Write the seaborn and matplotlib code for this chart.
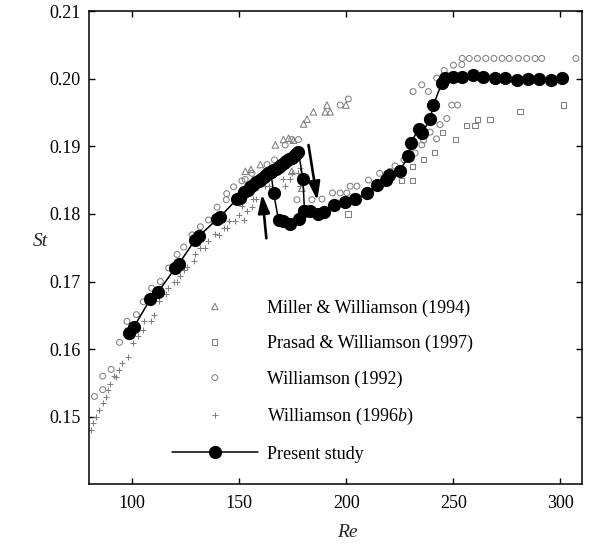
import matplotlib
matplotlib.use("Agg")
import matplotlib.pyplot as plt
import seaborn as sns
import pandas as pd

# ---------------- data ----------------
miller_re = [152.9, 155.5, 159.9, 166.9, 170.7, 173.1, 175.4, 174.6, 179.3,
             180.1, 181.7, 184.7, 190.2, 191.0, 192.5, 199.9]
miller_st = [0.1863, 0.1866, 0.1873, 0.1902, 0.1910, 0.1912, 0.1909, 0.1863, 0.1838,
             0.1933, 0.1940, 0.1951, 0.1951, 0.1961, 0.1951, 0.1961]

prasad_re = [200.8, 226.0, 231.0, 231.0, 236.1, 241.2, 245.1, 251.0, 256.3,
             260.2, 261.3, 267.2, 281.2, 301.4]
prasad_st = [0.1800, 0.1850, 0.1850, 0.1870, 0.1880, 0.1891, 0.1921, 0.1910, 0.1931,
             0.1931, 0.1940, 0.1940, 0.1951, 0.1961]

w92_re = [82.4, 86.3, 86.3, 90.2, 94.1, 97.6, 102.0, 105.2, 109.1, 113.2, 117.1,
          121.0, 124.1, 128.0, 131.0, 131.9, 135.7, 139.7, 144.0, 144.2, 147.4,
          151.3, 152.8, 156.0, 163.0, 166.5, 171.5, 174.6, 177.7, 177.0, 184.0,
          188.7, 193.6, 197.2, 200.3, 197.2, 201.0, 201.9, 205.0, 210.4, 215.6,
          220.5, 222.8, 227.0, 232.2, 235.3, 236.1, 239.2, 242.2, 243.8, 247.0,
          249.3, 252.0, 231.2, 235.3, 238.4, 242.3, 245.8, 250.1, 254.0, 254.2,
          257.5, 261.3, 265.2, 269.0, 272.8, 276.2, 280.4, 284.3, 288.2, 291.3,
          307.3]
w92_st = [0.1530, 0.1560, 0.1540, 0.1570, 0.1610, 0.1641, 0.1651, 0.1670, 0.1690,
          0.1700, 0.1720, 0.1740, 0.1751, 0.1769, 0.1766, 0.1781, 0.1791, 0.1810,
          0.1821, 0.1830, 0.1840, 0.1849, 0.1851, 0.1860, 0.1873, 0.1880, 0.1902,
          0.1910, 0.1910, 0.1821, 0.1821, 0.1822, 0.1831, 0.1831, 0.1831, 0.1961,
          0.1970, 0.1841, 0.1841, 0.1850, 0.1860, 0.1863, 0.1871, 0.1880, 0.1890,
          0.1902, 0.1909, 0.1921, 0.1911, 0.1932, 0.1941, 0.1961, 0.1961, 0.1981,
          0.1991, 0.1981, 0.2001, 0.2012, 0.2020, 0.2021, 0.2030, 0.2030, 0.2030,
          0.2030, 0.2030, 0.2030, 0.2030, 0.2030, 0.2030, 0.2030, 0.2030, 0.2030]

w96_re = [80.9, 81.9, 83.2, 84.7, 86.3, 87.9, 88.6, 89.9, 91.7, 92.6, 93.7, 95.3,
          98.0, 100.3, 102.6, 105.0, 105.7, 108.9, 110.4, 112.7, 115.9, 116.6,
          119.6, 121.0, 122.5, 124.1, 125.7, 128.8, 129.5, 131.9, 134.2, 135.5,
          138.9, 140.4, 142.7, 144.3, 145.1, 148.2, 149.7, 151.3, 152.5, 153.7,
          156.0, 156.7, 158.0, 162.2, 164.0, 170.7, 171.5, 173.9, 174.6, 177.5,
          178.5, 178.5]
w96_st = [0.1481, 0.1490, 0.1500, 0.1510, 0.1520, 0.1529, 0.1540, 0.1549, 0.1560,
          0.1559, 0.1569, 0.1580, 0.1589, 0.1609, 0.1619, 0.1629, 0.1641, 0.1641,
          0.1651, 0.1671, 0.1681, 0.1690, 0.1700, 0.1700, 0.1708, 0.1717, 0.1722,
          0.1730, 0.1740, 0.1749, 0.1750, 0.1760, 0.1771, 0.1769, 0.1779, 0.1779,
          0.1789, 0.1789, 0.1799, 0.1811, 0.1791, 0.1805, 0.1810, 0.1822, 0.1822,
          0.1841, 0.1841, 0.1851, 0.1841, 0.1851, 0.1861, 0.1861, 0.1868, 0.1841]

# present study: upper branch (increasing Re), drop point, lower branch, return point
upper_re = [98.7, 100.9, 108.5, 112.0, 120.2, 121.8, 129.5, 131.1, 139.7, 141.2,
            149.0, 150.5, 152.5, 154.0, 155.2, 156.6, 157.8, 159.1, 160.2, 161.4,
            162.5, 163.7, 164.8, 166.0, 167.3, 168.4, 169.6, 170.9, 172.0, 173.2,
            174.5, 175.6, 176.7, 177.7]
upper_st = [0.1624, 0.1633, 0.1674, 0.1684, 0.1720, 0.1726, 0.1762, 0.1767, 0.1792, 0.1796,
            0.1822, 0.1824, 0.1833, 0.1836, 0.1840, 0.1843, 0.1847, 0.1849, 0.1852, 0.1855,
            0.1857, 0.1860, 0.1862, 0.1865, 0.1867, 0.1870, 0.1873, 0.1875, 0.1878, 0.1881,
            0.1883, 0.1886, 0.1889, 0.1892]
drop_re = [179.8]
drop_st = [0.1851]
lower_re = [168.4, 170.7, 173.9, 178.0, 180.5, 183.2, 186.8, 189.4, 194.5, 199.5,
            204.2, 209.7, 214.3, 218.8, 219.9, 224.9, 229.0, 230.2, 233.9, 235.6,
            239.2, 240.7, 244.6, 246.2, 250.1, 254.0, 259.4, 264.1, 269.5, 274.2,
            279.9, 285.0, 290.2, 295.5, 300.6]
lower_st = [0.1791, 0.1789, 0.1785, 0.1792, 0.1805, 0.1804, 0.1800, 0.1803, 0.1813, 0.1818,
            0.1822, 0.1831, 0.1843, 0.1850, 0.1858, 0.1863, 0.1885, 0.1905, 0.1926, 0.1920,
            0.1941, 0.1961, 0.1993, 0.2001, 0.2002, 0.2003, 0.2005, 0.2003, 0.2001, 0.2001,
            0.1998, 0.2000, 0.2000, 0.1998, 0.2001]
return_re = [166.1]
return_st = [0.1831]

labels = ["Miller & Williamson (1994)", "Prasad & Williamson (1997)",
          "Williamson (1992)", r"Williamson (1996$\mathit{b}$)", "Present study"]
x_ticks = [100, 150, 200, 250, 300]
y_ticks = [0.15, 0.16, 0.17, 0.18, 0.19, 0.20, 0.21]

# hysteresis arrows (tail, head) in data coordinates
arrow_up = ((162.7, 0.1764), (160.7, 0.1829))
arrow_down = ((182.4, 0.1902), (186.5, 0.1820))

# ---------------- style ----------------
sns.set_theme(style="ticks")
plt.rcParams["font.family"] = ["Liberation Serif", "DejaVu Serif"]
plt.rcParams["mathtext.fontset"] = "custom"
plt.rcParams["mathtext.rm"] = "Liberation Serif"
plt.rcParams["mathtext.it"] = "Liberation Serif:italic"

GRAY = "#808080"

fig = plt.figure(figsize=(5.94, 5.44), dpi=100)
ax = fig.add_axes([0.1503, 0.1097, 0.829, 0.8699])

sns.scatterplot(x=miller_re, y=miller_st, ax=ax, marker="^", s=22,
                facecolors="none", edgecolor=GRAY, linewidth=0.75, label=labels[0])
sns.scatterplot(x=prasad_re, y=prasad_st, ax=ax, marker="s", s=14,
                facecolors="none", edgecolor=GRAY, linewidth=0.75, label=labels[1])
sns.scatterplot(x=w92_re, y=w92_st, ax=ax, marker="o", s=18,
                facecolors="none", edgecolor=GRAY, linewidth=0.75, label=labels[2])
sns.scatterplot(x=w96_re, y=w96_st, ax=ax, marker="+", s=22,
                color=GRAY, linewidth=0.75, label=labels[3])

# path 1: increasing Re along the upper branch, drop, then lower branch to the end
i_drop = lower_re.index(180.5)
path1 = pd.DataFrame({
    "Re": upper_re + drop_re + lower_re[i_drop:],
    "St": upper_st + drop_st + lower_st[i_drop:],
})
# path 2: decreasing Re along the lower branch, then jump back up
path2 = pd.DataFrame({
    "Re": lower_re[:i_drop + 1][::-1] + return_re + [upper_re[22]],
    "St": lower_st[:i_drop + 1][::-1] + return_st + [upper_st[22]],
})
sns.lineplot(data=path1, x="Re", y="St", ax=ax, sort=False, color="black",
             linewidth=1.1, marker="o", markersize=9.5, markeredgewidth=0,
             label=labels[4])
sns.lineplot(data=path2, x="Re", y="St", ax=ax, sort=False, color="black",
             linewidth=1.1, marker="o", markersize=9.5, markeredgewidth=0)

for (tail, head) in (arrow_up, arrow_down):
    ax.annotate("", xy=head, xytext=tail,
                arrowprops=dict(arrowstyle="-|>,head_length=1.1,head_width=0.35",
                                color="black", lw=1.9, shrinkA=0, shrinkB=0,
                                mutation_scale=10))

ax.set_xlim(80, 310)
ax.set_ylim(0.14, 0.21)
ax.set_xticks(x_ticks)
ax.set_xticklabels([str(v) for v in x_ticks])
ax.set_yticks(y_ticks)
ax.set_yticklabels([f"{v:.2f}" for v in y_ticks])
ax.tick_params(direction="in", top=True, right=True, length=4, width=1,
               labelsize=13, colors="black")
ax.tick_params(axis="x", pad=8)
ax.tick_params(axis="y", pad=6)
for sp in ax.spines.values():
    sp.set_linewidth(1.1)
    sp.set_color("black")

ax.set_xlabel("Re", fontstyle="italic", fontsize=14, va="top")
ax.set_ylabel("St", fontstyle="italic", fontsize=14, rotation=0,
              ha="center", va="center")
ax.xaxis.set_label_coords(0.524, -0.083)
ax.yaxis.set_label_coords(-0.100, 0.514)

leg = ax.legend(loc="upper left", bbox_to_anchor=(0.167, 0.3905), frameon=False,
                fontsize=13, handlelength=4.8, handletextpad=0.5, labelspacing=1.013,
                borderpad=0, borderaxespad=0, scatteryoffsets=[0.5], markerscale=1.0)
for t in leg.get_texts():
    t.set_color("black")

fig.savefig("out.png", dpi=100)
